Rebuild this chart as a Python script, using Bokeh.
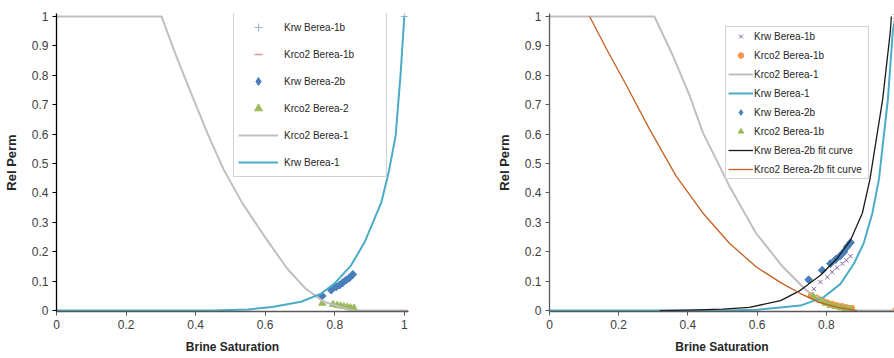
from bokeh.plotting import figure
from bokeh.models import Range1d, FixedTicker, CustomJSTickFormatter, Legend, LegendItem
from bokeh.layouts import row
from bokeh.embed import file_html
from bokeh.resources import INLINE

# ---------------- data: left panel ----------------
L_krw1b_x = [1.0]
L_krw1b_y = [1.0]
L_kco21b_x = [1.0]
L_kco21b_y = [0.0]
L_krw2b_x = [0.764, 0.790, 0.804, 0.814, 0.823, 0.833, 0.842, 0.852]
L_krw2b_y = [0.050, 0.070, 0.081, 0.087, 0.095, 0.104, 0.111, 0.123]
L_kco22_x = [0.764, 0.795, 0.807, 0.817, 0.826, 0.836, 0.845, 0.855]
L_kco22_y = [0.025, 0.021, 0.018, 0.016, 0.014, 0.012, 0.010, 0.009]
L_kco21_x = [0.0, 0.302, 0.341, 0.379, 0.437, 0.480, 0.533, 0.596, 0.663, 0.716, 0.768, 0.836, 0.860, 1.0]
L_kco21_y = [1.0, 1.0, 0.875, 0.762, 0.594, 0.481, 0.368, 0.256, 0.143, 0.075, 0.030, 0.005, 0.0, 0.0]
L_krw1_x = [0.0, 0.45, 0.55, 0.62, 0.703, 0.761, 0.799, 0.847, 0.886, 0.914, 0.934, 0.955, 0.975, 0.989, 1.0]
L_krw1_y = [0.0, 0.0, 0.004, 0.012, 0.030, 0.058, 0.092, 0.154, 0.233, 0.312, 0.368, 0.470, 0.594, 0.800, 1.0]

# ---------------- data: right panel ----------------
R_krw1b_x = [0.764, 0.783, 0.803, 0.817, 0.831, 0.846, 0.858, 0.870, 1.0]
R_krw1b_y = [0.074, 0.097, 0.114, 0.131, 0.146, 0.160, 0.171, 0.185, 1.0]
R_kco21b_x = [0.756, 0.772, 0.788, 0.803, 0.817, 0.831, 0.846, 0.860, 0.873, 1.0]
R_kco21b_y = [0.051, 0.043, 0.034, 0.027, 0.022, 0.017, 0.014, 0.010, 0.008, 0.0]
R_kco21_x = [0.0, 0.303, 0.356, 0.405, 0.443, 0.520, 0.597, 0.674, 0.742, 0.800, 0.867, 1.0]
R_kco21_y = [1.0, 1.0, 0.868, 0.731, 0.606, 0.423, 0.263, 0.149, 0.069, 0.023, 0.0, 0.0]
R_krw1_x = [0.0, 0.5, 0.6, 0.725, 0.793, 0.841, 0.880, 0.908, 0.933, 0.952, 0.978, 0.992, 1.0]
R_krw1_y = [0.0, 0.0, 0.003, 0.017, 0.046, 0.091, 0.160, 0.229, 0.331, 0.446, 0.720, 0.949, 1.0]
R_krw2b_x = [0.749, 0.788, 0.812, 0.827, 0.839, 0.851, 0.860, 0.870]
R_krw2b_y = [0.105, 0.137, 0.160, 0.174, 0.185, 0.200, 0.217, 0.231]
R_kco2tri_x = [0.762, 0.783, 0.798, 0.812, 0.827, 0.841, 0.855, 0.870]
R_kco2tri_y = [0.048, 0.034, 0.025, 0.018, 0.014, 0.010, 0.007, 0.005]
R_krwfit_x = [0.318, 0.4, 0.5, 0.578, 0.668, 0.725, 0.783, 0.831, 0.870, 0.904, 0.926, 0.963, 0.985, 0.988]
R_krwfit_y = [0.0, 0.002, 0.005, 0.011, 0.034, 0.069, 0.120, 0.177, 0.240, 0.331, 0.446, 0.720, 0.949, 1.0]
R_kcofit_x = [0.116, 0.164, 0.222, 0.289, 0.366, 0.443, 0.520, 0.597, 0.668, 0.725, 0.780, 0.830, 0.889]
R_kcofit_y = [1.0, 0.891, 0.766, 0.617, 0.457, 0.332, 0.229, 0.149, 0.095, 0.058, 0.028, 0.012, 0.0]

X_TICKS = [0, 0.2, 0.4, 0.6, 0.8, 1.0]
Y_TICKS = [0, 0.1, 0.2, 0.3, 0.4, 0.5, 0.6, 0.7, 0.8, 0.9, 1.0]

FONT = "Liberation Sans"
GRAY = "#BFBFBF"
CYAN = "#4BACC6"
BLUE = "#4A7EBB"
GREEN = "#9BBB59"
ORANGE = "#F79646"
PURPLE = "#8064A2"
LBLUE = "#95B3D7"
PINK = "#D99694"
FITOR = "#C65F22"
FITBK = "#1A1A1A"

TOP = 13
BOTTOM = 47
HEIGHT = 358


def make_fig(x_end, width, right, yaxis_color, xaxis_color):
    p = figure(width=width, height=HEIGHT,
               x_range=Range1d(0, x_end), y_range=Range1d(-0.003, 1.01),
               output_backend="svg", toolbar_location=None,
               min_border_left=56, min_border_right=right,
               min_border_top=TOP, min_border_bottom=BOTTOM)
    p.xgrid.visible = False
    p.ygrid.visible = False
    p.outline_line_color = None
    fmt = "return (Math.round(tick*10)/10).toString();"
    p.xaxis.ticker = FixedTicker(ticks=X_TICKS)
    p.yaxis.ticker = FixedTicker(ticks=Y_TICKS)
    p.xaxis.formatter = CustomJSTickFormatter(code=fmt)
    p.yaxis.formatter = CustomJSTickFormatter(code=fmt)
    for ax, col in ((p.xaxis, xaxis_color), (p.yaxis, yaxis_color)):
        ax.axis_line_color = col
        ax.axis_line_width = 1.3
        ax.major_tick_line_color = col
        ax.major_tick_in = 0
        ax.major_tick_out = 4
        ax.minor_tick_line_color = None
        ax.major_label_text_font = FONT
        ax.major_label_text_font_size = "12px"
        ax.major_label_text_color = "#404040"
        ax.major_label_standoff = 4
        ax.axis_label_text_font = FONT
        ax.axis_label_text_font_style = "bold"
        ax.axis_label_text_color = "#262626"
    p.xaxis.axis_label = "Brine Saturation"
    p.xaxis.axis_label_text_font_size = "12px"
    p.xaxis.axis_label_standoff = 8
    p.yaxis.axis_label = "Rel Perm"
    p.yaxis.axis_label_text_font_size = "13px"
    p.yaxis.axis_label_standoff = 10
    return p


def style_legend(lg):
    lg.border_line_color = "#A6A6A6"
    lg.border_line_width = 1
    lg.background_fill_color = "white"
    lg.background_fill_alpha = 1
    lg.label_text_font = FONT
    lg.label_text_font_size = "10px"
    lg.label_text_color = "#262626"
    lg.margin = 0


def diamonds(p, xs, ys):
    # legend key (an upright diamond, hidden under the plotted marks)
    key = p.scatter(xs, ys, marker="diamond", size=7.5, fill_color=BLUE, line_color=BLUE)
    r = p.scatter(xs, ys, marker="square", angle=0.785, size=5.5,
                  fill_color=BLUE, line_color=BLUE)
    return r, key


# ---------------- left figure ----------------
pl = make_fig(1.012, 493, 85, "#000000", "#595959")
r1 = pl.scatter(L_krw1b_x, L_krw1b_y, marker="cross", size=7, line_color=LBLUE, line_width=1)
r2 = pl.scatter(L_kco21b_x, L_kco21b_y, marker="dash", size=7, line_color=PINK, line_width=1.5)
r3, k3 = diamonds(pl, L_krw2b_x, L_krw2b_y)
r4 = pl.scatter(L_kco22_x, L_kco22_y, marker="triangle", size=7, fill_color=GREEN, line_color=GREEN)
r5 = pl.line(L_kco21_x, L_kco21_y, line_color=GRAY, line_width=2)
r6 = pl.line(L_krw1_x, L_krw1_y, line_color=CYAN, line_width=2)
leg_l = Legend(items=[
    LegendItem(label="Krw Berea-1b", renderers=[r1]),
    LegendItem(label="Krco2 Berea-1b", renderers=[r2]),
    LegendItem(label="Krw Berea-2b", renderers=[k3]),
    LegendItem(label="Krco2 Berea-2", renderers=[r4]),
    LegendItem(label="Krco2 Berea-1", renderers=[r5]),
    LegendItem(label="Krw Berea-1", renderers=[r6]),
], location=(177, 134))
style_legend(leg_l)
leg_l.glyph_height = 20
leg_l.label_height = 20
leg_l.glyph_width = 40
leg_l.label_standoff = 6
leg_l.spacing = 7
leg_l.padding = 4
leg_l.label_width = 98
pl.add_layout(leg_l)

# ---------------- right figure ----------------
pr = make_fig(0.997, 401, 0, "#595959", "#595959")
s1 = pr.scatter(R_krw1b_x, R_krw1b_y, marker="x", size=6, line_color=PURPLE, line_width=1)
s2 = pr.scatter(R_kco21b_x, R_kco21b_y, marker="circle", size=6, fill_color=ORANGE, line_color=ORANGE)
s3 = pr.line(R_kco21_x, R_kco21_y, line_color=GRAY, line_width=2)
s4 = pr.line(R_krw1_x, R_krw1_y, line_color=CYAN, line_width=2)
s5, k5 = diamonds(pr, R_krw2b_x, R_krw2b_y)
s6 = pr.scatter(R_kco2tri_x, R_kco2tri_y, marker="triangle", size=7, fill_color=GREEN, line_color=GREEN)
s7 = pr.line(R_krwfit_x, R_krwfit_y, line_color=FITBK, line_width=1.3)
s8 = pr.line(R_kcofit_x, R_kcofit_y, line_color=FITOR, line_width=1.3)
leg_r = Legend(items=[
    LegendItem(label="Krw Berea-1b", renderers=[s1]),
    LegendItem(label="Krco2 Berea-1b", renderers=[s2]),
    LegendItem(label="Krco2 Berea-1", renderers=[s3]),
    LegendItem(label="Krw Berea-1", renderers=[s4]),
    LegendItem(label="Krw Berea-2b", renderers=[k5]),
    LegendItem(label="Krco2 Berea-1b", renderers=[s6]),
    LegendItem(label="Krw Berea-2b fit curve", renderers=[s7]),
    LegendItem(label="Krco2 Berea-2b fit curve", renderers=[s8]),
], location=(176, 132))
style_legend(leg_r)
leg_r.glyph_height = 14
leg_r.label_height = 14
leg_r.glyph_width = 25
leg_r.label_standoff = 1
leg_r.spacing = 5
leg_r.padding = 2
leg_r.label_width = 112
pr.add_layout(leg_r)

layout = row(pl, pr)
open("out.html", "w").write(file_html(layout, INLINE))
